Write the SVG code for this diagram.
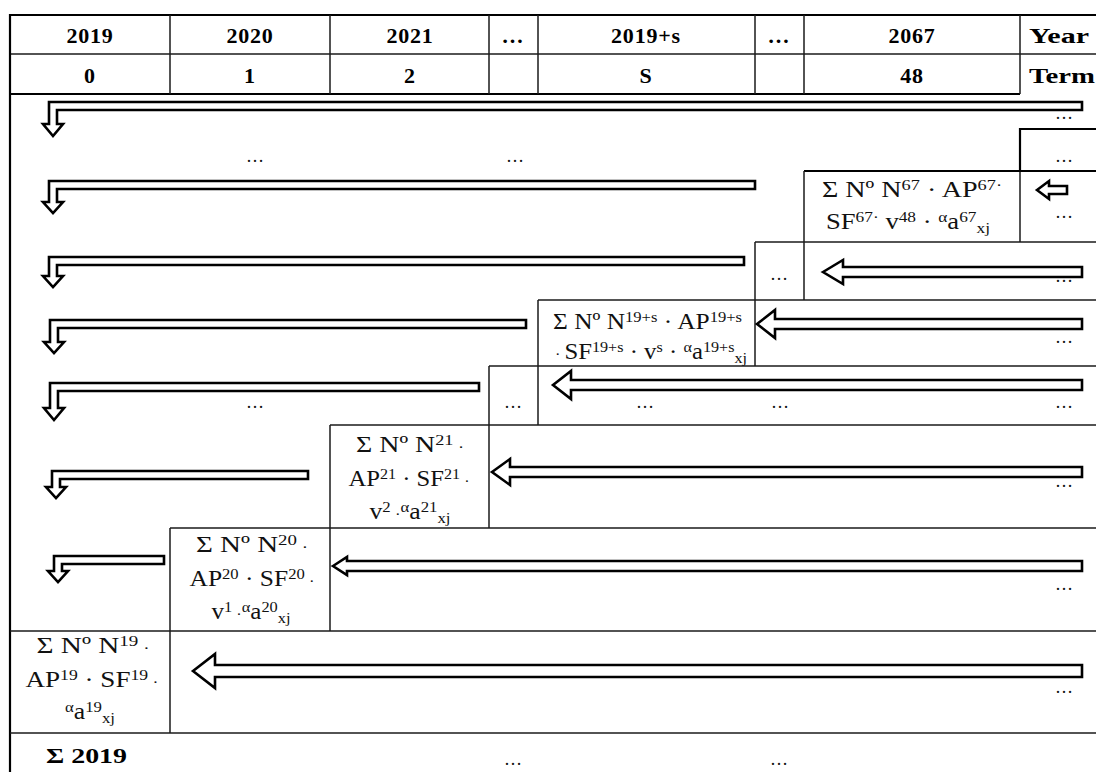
<svg xmlns="http://www.w3.org/2000/svg" width="1096" height="772" viewBox="0 0 1096 772">
<style>
.bg{fill:#fff}
.ln{stroke:#1a1a1a;stroke-width:1.5;fill:none}
.tk{stroke:#000;stroke-width:2.2;fill:none}
.hd{font-family:"Liberation Serif","Times New Roman",serif;font-weight:bold;font-size:22px;letter-spacing:0.8px;fill:#000;text-anchor:middle}
.hl{font-family:"Liberation Serif","Times New Roman",serif;font-weight:bold;font-size:22px;fill:#000}
.fx{font-family:"Liberation Serif","Times New Roman",serif;font-size:23px;fill:#111;text-anchor:middle}
.fl{font-family:"Liberation Serif","Times New Roman",serif;font-size:23px;fill:#111}
.dt{font-family:"Liberation Serif","Times New Roman",serif;font-size:18px;fill:#111;text-anchor:middle}
.ar{fill:#fff;stroke:#000;stroke-width:2.6;stroke-linejoin:miter}
.s{font-size:15px}
.b{font-size:15px}
</style>
<rect class="bg" x="0" y="0" width="1096" height="772"/>

<g id="grid">
  <line class="tk" x1="10" y1="15" x2="1096" y2="15"/>
  <line class="ln" x1="10" y1="54" x2="1096" y2="54"/>
  <line class="tk" x1="10" y1="94" x2="1020" y2="94"/>
  <line class="tk" x1="10" y1="14" x2="10" y2="772"/>
  <line class="ln" x1="170" y1="15" x2="170" y2="94"/>
  <line class="ln" x1="330" y1="15" x2="330" y2="94"/>
  <line class="ln" x1="489" y1="15" x2="489" y2="94"/>
  <line class="ln" x1="538" y1="15" x2="538" y2="94"/>
  <line class="ln" x1="755" y1="15" x2="755" y2="94"/>
  <line class="ln" x1="804" y1="15" x2="804" y2="94"/>
  <line class="ln" x1="1020" y1="15" x2="1020" y2="94"/>
  <line class="tk" x1="1020" y1="129" x2="1096" y2="129"/>
  <line class="tk" x1="1020" y1="128" x2="1020" y2="172"/>
  <line class="ln" x1="1020" y1="172" x2="1020" y2="242"/>
  <line class="tk" x1="804" y1="171" x2="1096" y2="171"/>
  <line class="ln" x1="804" y1="171" x2="804" y2="300"/>
  <line class="ln" x1="755" y1="242" x2="1096" y2="242"/>
  <line class="ln" x1="755" y1="242" x2="755" y2="366"/>
  <line class="ln" x1="538" y1="300" x2="1096" y2="300"/>
  <line class="ln" x1="538" y1="300" x2="538" y2="425"/>
  <line class="ln" x1="489" y1="366" x2="1096" y2="366"/>
  <line class="ln" x1="489" y1="366" x2="489" y2="528"/>
  <line class="ln" x1="330" y1="425" x2="1096" y2="425"/>
  <line class="ln" x1="330" y1="425" x2="330" y2="631"/>
  <line class="ln" x1="170" y1="528" x2="1096" y2="528"/>
  <line class="ln" x1="170" y1="528" x2="170" y2="733"/>
  <line class="ln" x1="10" y1="631" x2="1096" y2="631"/>
  <line class="ln" x1="10" y1="733" x2="1096" y2="733"/>
</g>

<g id="header">
  <text class="hd" x="90" y="43">2019</text>
  <text class="hd" x="250" y="43">2020</text>
  <text class="hd" x="410" y="43">2021</text>
  <text class="hd" x="513" y="43">…</text>
  <text class="hd" x="646" y="43">2019+s</text>
  <text class="hd" x="779" y="43">…</text>
  <text class="hd" x="912" y="43">2067</text>
  <text class="hl" x="1029" y="43" textLength="60" lengthAdjust="spacingAndGlyphs">Year</text>
  <text class="hd" x="90" y="83">0</text>
  <text class="hd" x="250" y="83">1</text>
  <text class="hd" x="410" y="83">2</text>
  <text class="hd" x="646" y="83">S</text>
  <text class="hd" x="912" y="83">48</text>
  <text class="hl" x="1029" y="83" textLength="66" lengthAdjust="spacingAndGlyphs">Term</text>
</g>

<g id="node-2067">
  <text class="fx" x="912" y="197" textLength="180" lengthAdjust="spacingAndGlyphs">Σ Nº N<tspan class="s" dy="-7">67</tspan><tspan dy="7"> · AP</tspan><tspan class="s" dy="-7">67·</tspan></text>
  <text class="fx" x="908" y="229" textLength="164" lengthAdjust="spacingAndGlyphs">SF<tspan class="s" dy="-7">67·</tspan><tspan dy="7"> v</tspan><tspan class="s" dy="-7">48</tspan><tspan dy="7"> · </tspan><tspan class="s" dy="-7">α</tspan><tspan dy="7">a</tspan><tspan class="s" dy="-7">67</tspan><tspan class="b" dy="11">xj</tspan></text>
</g>

<g id="node-2019s">
  <text class="fl" x="553" y="329" textLength="189" lengthAdjust="spacingAndGlyphs">Σ Nº N<tspan class="s" dy="-7">19+s</tspan><tspan dy="7"> · AP</tspan><tspan class="s" dy="-7">19+s</tspan></text>
  <text class="fl" x="555" y="359" textLength="192" lengthAdjust="spacingAndGlyphs"><tspan class="s">· </tspan>SF<tspan class="s" dy="-7">19+s</tspan><tspan dy="7"> · v</tspan><tspan class="s" dy="-7">s</tspan><tspan dy="7"> · </tspan><tspan class="s" dy="-7">α</tspan><tspan dy="7">a</tspan><tspan class="s" dy="-7">19+s</tspan><tspan class="b" dy="11">xj</tspan></text>
</g>

<g id="node-2021">
  <text class="fx" x="410" y="452" textLength="108" lengthAdjust="spacingAndGlyphs">Σ Nº N<tspan class="s" dy="-7">21</tspan><tspan class="s" dy="7"> ·</tspan></text>
  <text class="fx" x="409" y="486" textLength="121" lengthAdjust="spacingAndGlyphs">AP<tspan class="s" dy="-7">21</tspan><tspan dy="7"> · SF</tspan><tspan class="s" dy="-7">21</tspan><tspan class="s" dy="7"> ·</tspan></text>
  <text class="fx" x="410" y="519" textLength="81" lengthAdjust="spacingAndGlyphs">v<tspan class="s" dy="-7">2</tspan><tspan class="s" dy="7"> ·</tspan><tspan class="s" dy="-7">α</tspan><tspan dy="7">a</tspan><tspan class="s" dy="-7">21</tspan><tspan class="b" dy="11">xj</tspan></text>
</g>

<g id="node-2020">
  <text class="fx" x="252" y="552" textLength="112" lengthAdjust="spacingAndGlyphs">Σ Nº N<tspan class="s" dy="-7">20</tspan><tspan class="s" dy="7"> ·</tspan></text>
  <text class="fx" x="252" y="586" textLength="125" lengthAdjust="spacingAndGlyphs">AP<tspan class="s" dy="-7">20</tspan><tspan dy="7"> · SF</tspan><tspan class="s" dy="-7">20</tspan><tspan class="s" dy="7"> ·</tspan></text>
  <text class="fx" x="251" y="619" textLength="79" lengthAdjust="spacingAndGlyphs">v<tspan class="s" dy="-7">1</tspan><tspan class="s" dy="7"> ·</tspan><tspan class="s" dy="-7">α</tspan><tspan dy="7">a</tspan><tspan class="s" dy="-7">20</tspan><tspan class="b" dy="11">xj</tspan></text>
</g>

<g id="node-2019">
  <text class="fx" x="93" y="653" textLength="113" lengthAdjust="spacingAndGlyphs">Σ Nº N<tspan class="s" dy="-7">19</tspan><tspan class="s" dy="7"> ·</tspan></text>
  <text class="fx" x="92" y="687" textLength="133" lengthAdjust="spacingAndGlyphs">AP<tspan class="s" dy="-7">19</tspan><tspan dy="7">  · SF</tspan><tspan class="s" dy="-7">19</tspan><tspan class="s" dy="7"> ·</tspan></text>
  <text class="fx" x="90" y="719" textLength="50" lengthAdjust="spacingAndGlyphs"><tspan class="s" dy="-7">α</tspan><tspan dy="7">a</tspan><tspan class="s" dy="-7">19</tspan><tspan class="b" dy="11">xj</tspan></text>
</g>

<g id="total">
  <text class="hl" x="46" y="763" textLength="81" lengthAdjust="spacingAndGlyphs">Σ 2019</text>
</g>

<g id="dots">
  <text class="dt" x="1064" y="119">…</text>
  <text class="dt" x="255" y="162">…</text>
  <text class="dt" x="515" y="162">…</text>
  <text class="dt" x="1064" y="162">…</text>
  <text class="dt" x="1064" y="218">…</text>
  <text class="dt" x="779" y="280">…</text>
  <text class="dt" x="1064" y="282">…</text>
  <text class="dt" x="1064" y="343">…</text>
  <text class="dt" x="255" y="408">…</text>
  <text class="dt" x="513" y="408">…</text>
  <text class="dt" x="645" y="408">…</text>
  <text class="dt" x="780" y="408">…</text>
  <text class="dt" x="1064" y="408">…</text>
  <text class="dt" x="1064" y="487">…</text>
  <text class="dt" x="1064" y="590">…</text>
  <text class="dt" x="1064" y="693">…</text>
  <text class="dt" x="513" y="765">…</text>
  <text class="dt" x="779" y="765">…</text>
</g>

<g id="connectors">
  <polygon class="ar" points="1082,102 49,102 49,124 43,124 53,136 63,124 57,124 57,110 1082,110"/>
  <polygon class="ar" points="755,181 49,181 49,202 43,202 53,213 63,202 57,202 57,189 755,189"/>
  <polygon class="ar" points="744,257 49,257 49,276 43,276 53,287 63,276 57,276 57,265 744,265"/>
  <polygon class="ar" points="526,320 50,320 50,342 44,342 54,353 64,342 58,342 58,328 526,328"/>
  <polygon class="ar" points="479,383 50,383 50,408 44,408 54,420 64,408 58,408 58,391 479,391"/>
  <polygon class="ar" points="308,471 52,471 52,487 46,487 56,498 66,487 60,487 60,479 308,479"/>
  <polygon class="ar" points="164,556 54,556 54,571 48,571 58,582 68,571 62,571 62,564 164,564"/>
  <polygon class="ar" points="1037,190 1049,181 1049,186 1067,186 1067,194 1049,194 1049,199"/>
  <polygon class="ar" points="823,272 843,260 843,267 1082,267 1082,277 843,277 843,284"/>
  <polygon class="ar" points="757,324 775,310 775,319 1082,319 1082,329 775,329 775,338"/>
  <polygon class="ar" points="553,385 571,371 571,380 1082,380 1082,390 571,390 571,399"/>
  <polygon class="ar" points="492,472 510,459 510,467 1082,467 1082,477 510,477 510,485"/>
  <polygon class="ar" points="333,566 347,557 347,561 1082,561 1082,571 347,571 347,575"/>
  <polygon class="ar" points="193,671 215,654 215,665 1082,665 1082,677 215,677 215,688"/>
</g>
</svg>
